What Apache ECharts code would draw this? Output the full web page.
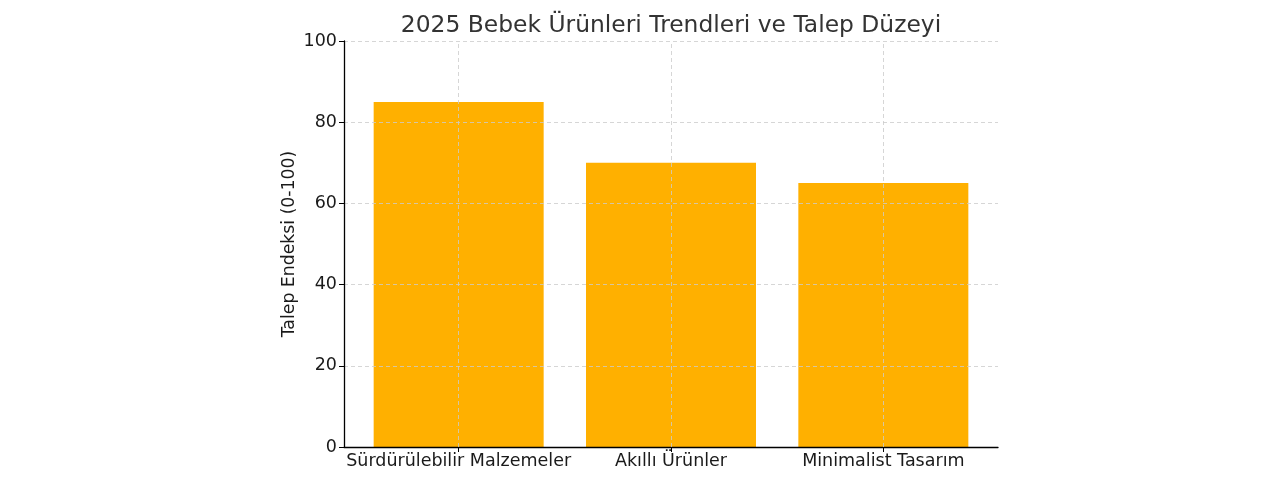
<!DOCTYPE html>
<html><head><meta charset="utf-8">
<script src="https://cdn.jsdelivr.net/npm/echarts@6/dist/echarts.min.js"></script>
<style>html,body{margin:0;padding:0;background:#fff}#c{width:1280px;height:480px}</style>
</head><body><div id="c"></div>
<script>
const categories = ["Sürdürülebilir Malzemeler", "Akıllı Ürünler", "Minimalist Tasarım"];
const values = [85, 70, 65];
const yTicks = [0, 20, 40, 60, 80, 100];
const titleText = "2025 Bebek Ürünleri Trendleri ve Talep Düzeyi";
const yName = "Talep Endeksi (0-100)";

const chart = echarts.init(document.getElementById('c'), null, {renderer: 'canvas'});
const font = "DejaVu Sans";
const idx = categories.map((_, i) => i);
chart.setOption({
  animation: false,
  title: {text: titleText, left: 666, top: 9, textAlign: 'center',
    textStyle: {fontFamily: font, fontSize: 23.4, fontWeight: 'normal', color: '#333'}},
  grid: {left: 344, right: 282, top: 41, bottom: 33, containLabel: false},
  xAxis: {
    type: 'value', min: -0.54, max: 2.54, z: 5,
    axisLine: {show: true, onZero: false, lineStyle: {color: '#000', width: 1.3}},
    axisTick: {show: true, customValues: idx, length: 5, lineStyle: {color: '#000'}},
    axisLabel: {customValues: idx, formatter: v => categories[Math.round(v)],
      fontFamily: font, fontSize: 17.5, color: '#1a1a1a', margin: 5},
    splitLine: {show: false}
  },
  yAxis: {
    type: 'value', min: 0, max: 100, interval: 20, z: 5,
    name: yName, nameLocation: 'middle', nameGap: 46, nameMoveOverlap: false,
    nameTextStyle: {fontFamily: font, fontSize: 17.3, color: '#1a1a1a'},
    axisLine: {show: true, onZero: false, lineStyle: {color: '#000', width: 1.3}},
    axisTick: {show: true, length: 5, lineStyle: {color: '#000'}},
    axisLabel: {fontFamily: font, fontSize: 17.5, color: '#1a1a1a', margin: 7},
    splitLine: {show: true, lineStyle: {color: '#cccccc', type: [4, 3], width: 0.8}}
  },
  series: [{
    type: 'bar', z: 1, barWidth: 170,
    data: idx.map(i => [i, values[i]]),
    itemStyle: {color: '#FFB000'},
    markLine: {silent: true, symbol: 'none', label: {show: false}, z: 6,
      lineStyle: {color: '#cccccc', type: [4, 3], width: 0.8},
      data: idx.map(i => ({xAxis: i}))}
  }]
});
</script></body></html>
